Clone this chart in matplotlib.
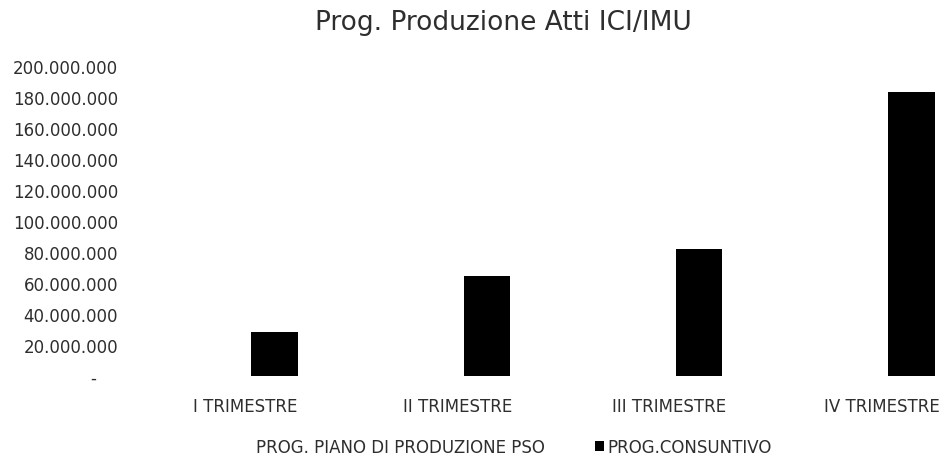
import numpy as np
import matplotlib
matplotlib.use("Agg")
import matplotlib.pyplot as plt
from matplotlib.patches import Patch

plt.rcParams["font.family"] = ["DejaVu Sans"]

title = "Prog. Produzione Atti ICI/IMU"
categories = ["I TRIMESTRE", "II TRIMESTRE", "III TRIMESTRE", "IV TRIMESTRE"]
series_names = ["PROG. PIANO DI PRODUZIONE PSO", "PROG.CONSUNTIVO"]
consuntivo = [28_500_000, 64_500_000, 82_000_000, 183_500_000]
y_ticks = list(range(0, 200_000_001, 20_000_000))

text_col = "#2e2e2e"


def fmt(v):
    # Excel accounting style: zero shown as a dash
    if v == 0:
        return "-    "
    return f"{int(v):,}".replace(",", ".")


fig = plt.figure(figsize=(9.43, 4.64), dpi=100)
ax = fig.add_axes([139 / 943, (464 - 377) / 464, (943 - 139) / 943, 309.5 / 464])

x = np.arange(len(categories))
ax.bar(x + 0.14, consuntivo, width=0.22, color="black")

ax.set_xlim(-0.5, 3.29)
ax.set_ylim(0, 200_000_000)
ax.set_xticks(x)
ax.set_xticklabels(categories, fontsize=12, color=text_col)
ax.set_yticks(y_ticks)
ax.set_yticklabels([fmt(v) for v in y_ticks], fontsize=12, color=text_col)
ax.tick_params(length=0)
ax.tick_params(axis="y", pad=15)
ax.tick_params(axis="x", pad=15)
for s in ax.spines.values():
    s.set_visible(False)

fig.text(503 / 943, 1 - 30 / 464, title, ha="center", va="baseline", fontsize=19, color=text_col)

handles = [Patch(facecolor="white", edgecolor="none"), Patch(facecolor="black", edgecolor="none")]
fig.legend(handles, series_names, loc="center", bbox_to_anchor=(508 / 943, 1 - 448 / 464), ncol=2,
           frameon=False, fontsize=12, handlelength=0.55, handleheight=0.55,
           handletextpad=0.2, columnspacing=3.0, labelcolor=text_col,
           borderpad=0, borderaxespad=0)

fig.savefig("out.png", dpi=100)
